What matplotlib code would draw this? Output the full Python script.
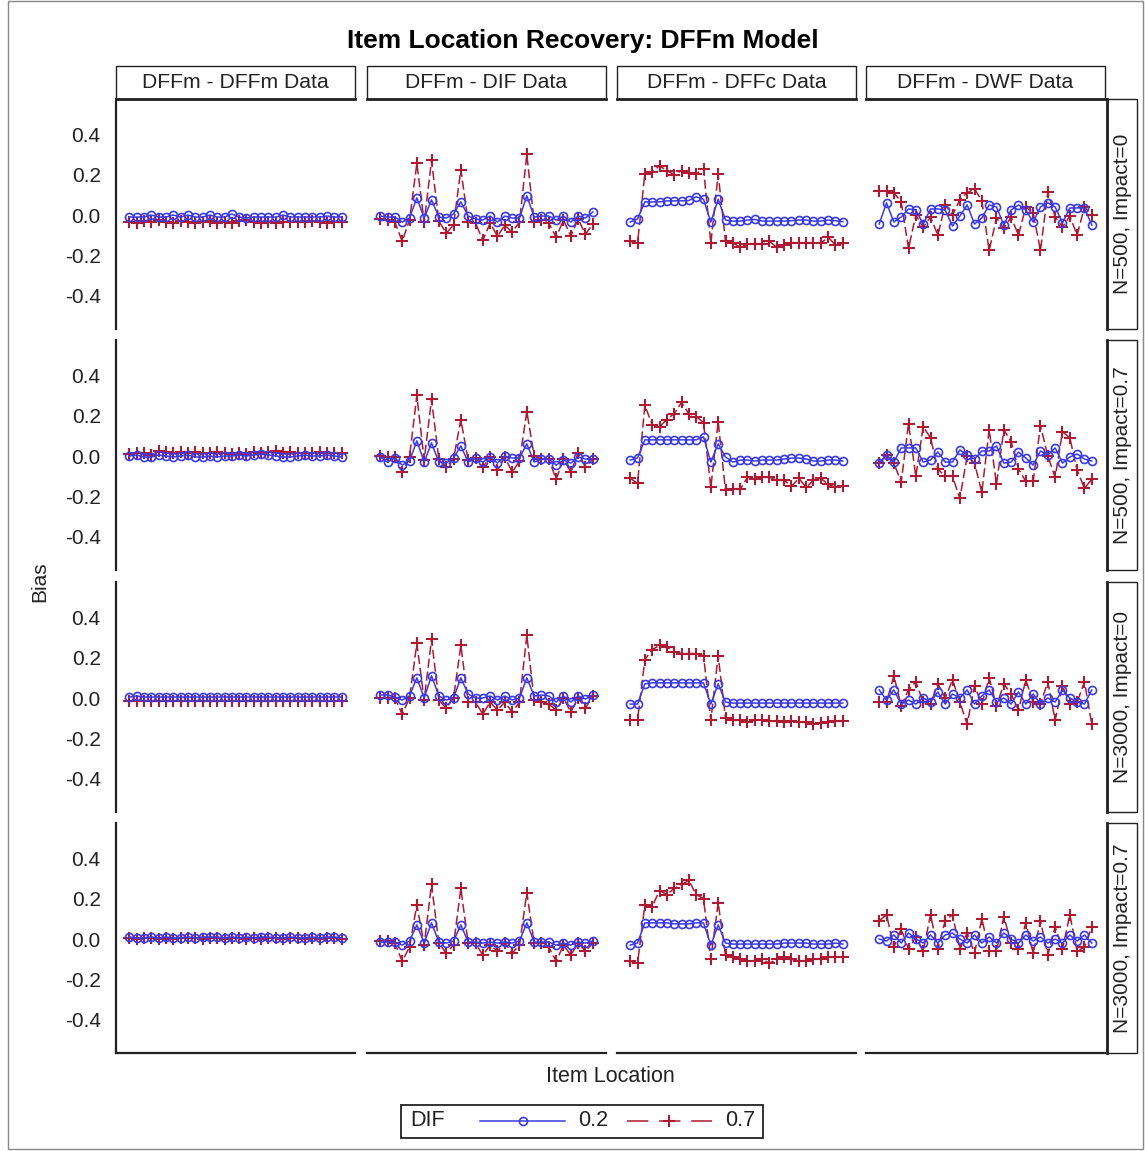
import matplotlib
matplotlib.use("Agg")
import matplotlib.pyplot as plt
from matplotlib.lines import Line2D
from matplotlib.patches import Rectangle

plt.rcParams['font.family'] = ['Liberation Sans', 'DejaVu Sans']
plt.rcParams['axes.unicode_minus'] = False

# ---- data -------------------------------------------------------------
items = list(range(1, 31))
data_conditions = ["DFFm - DFFm Data", "DFFm - DIF Data", "DFFm - DFFc Data", "DFFm - DWF Data"]
sample_conditions = ["N=500, Impact=0", "N=500, Impact=0.7", "N=3000, Impact=0", "N=3000, Impact=0.7"]
dif_levels = ["0.2", "0.7"]
y_ticks = [0.4, 0.2, 0.0, -0.2, -0.4]
y_tick_labels = ["0.4", "0.2", "0.0", "-0.2", "-0.4"]

# N=500, Impact=0
n500_i0_dffm_02 = [-0.01, -0.01, -0.01, 0.0, -0.01, -0.01, 0.0, -0.01, 0.0, -0.01, -0.01, 0.0, -0.01, -0.01, 0.005,
                   -0.01, -0.015, -0.01, -0.01, -0.01, -0.01, 0.0, -0.01, -0.01, -0.01, -0.01, -0.01, -0.005, -0.01, -0.01]
n500_i0_dffm_07 = [-0.035, -0.04, -0.03, -0.035, -0.025, -0.035, -0.04, -0.03, -0.035, -0.04, -0.035, -0.03, -0.04, -0.035, -0.04,
                   -0.03, -0.025, -0.035, -0.04, -0.035, -0.04, -0.035, -0.035, -0.035, -0.035, -0.03, -0.035, -0.04, -0.035, -0.035]
n500_i0_dif_02 = [-0.005, -0.01, -0.01, -0.035, -0.015, 0.085, -0.015, 0.075, -0.01, -0.015, 0.005, 0.065, -0.005, -0.02, -0.025,
                  -0.005, -0.035, -0.005, -0.015, -0.015, 0.095, -0.01, -0.005, -0.005, -0.025, -0.005, -0.035, -0.005, -0.015, 0.015]
n500_i0_dif_07 = [-0.02, -0.025, -0.035, -0.13, -0.025, 0.255, -0.035, 0.27, -0.03, -0.09, -0.05, 0.225, -0.035, -0.04, -0.125,
                  -0.04, -0.105, -0.05, -0.085, -0.035, 0.30, -0.035, -0.025, -0.04, -0.11, -0.025, -0.105, -0.02, -0.095, -0.045]
n500_i0_dffc_02 = [-0.035, -0.02, 0.065, 0.065, 0.065, 0.07, 0.07, 0.07, 0.072, 0.09, 0.078, -0.035, 0.078, -0.025, -0.03,
                   -0.03, -0.025, -0.022, -0.03, -0.03, -0.03, -0.03, -0.028, -0.025, -0.025, -0.03, -0.03, -0.025, -0.028, -0.033]
n500_i0_dffc_07 = [-0.13, -0.14, 0.205, 0.215, 0.243, 0.22, 0.198, 0.22, 0.21, 0.203, 0.23, -0.14, 0.203, -0.13, -0.137,
                   -0.16, -0.143, -0.143, -0.143, -0.13, -0.16, -0.148, -0.137, -0.137, -0.137, -0.137, -0.14, -0.11, -0.148, -0.14]
n500_i0_dwf_02 = [-0.045, 0.06, -0.035, -0.01, 0.03, 0.025, -0.045, 0.03, 0.03, 0.025, -0.055, -0.005, 0.05, -0.045, -0.015,
                  0.05, 0.04, -0.05, 0.025, 0.05, 0.025, -0.035, 0.04, 0.06, 0.04, -0.04, 0.035, 0.035, 0.035, -0.05]
n500_i0_dwf_07 = [0.12, 0.12, 0.11, 0.065, -0.165, 0.0, -0.06, -0.01, -0.1, 0.05, 0.0, 0.075, 0.11, 0.13, 0.07,
                  -0.175, -0.015, -0.065, -0.01, -0.1, 0.04, 0.008, -0.175, 0.115, -0.01, -0.06, -0.005, -0.1, 0.04, 0.0]

# N=500, Impact=0.7
n500_i7_dffm_02 = [0.0, 0.005, -0.005, -0.005, 0.005, 0.0, -0.005, 0.0, 0.005, -0.005, -0.005, 0.0, -0.005, 0.0, 0.0,
                   0.005, 0.0, 0.005, 0.01, 0.005, 0.0, -0.005, -0.005, 0.0, 0.005, 0.0, 0.0, 0.005, 0.0, -0.005]
n500_i7_dffm_07 = [0.01, 0.015, 0.015, 0.005, 0.025, 0.02, 0.015, 0.02, 0.015, 0.02, 0.015, 0.015, 0.02, 0.015, 0.01,
                   0.015, 0.01, 0.02, 0.015, 0.02, 0.025, 0.015, 0.02, 0.015, 0.015, 0.015, 0.02, 0.015, 0.015, 0.015]
n500_i7_dif_02 = [-0.005, -0.03, -0.01, -0.045, -0.025, 0.075, -0.03, 0.065, -0.03, -0.035, -0.01, 0.05, -0.03, -0.01, -0.03,
                  -0.005, -0.035, 0.0, -0.01, -0.01, 0.06, -0.03, -0.015, -0.015, -0.045, -0.02, -0.035, -0.005, -0.015, -0.015]
n500_i7_dif_07 = [0.0, -0.005, -0.005, -0.08, -0.005, 0.30, -0.02, 0.28, -0.015, -0.055, -0.015, 0.18, -0.02, -0.01, -0.055,
                  -0.005, -0.07, -0.005, -0.08, -0.025, 0.22, 0.0, -0.015, -0.015, -0.115, -0.015, -0.08, 0.015, -0.055, -0.015]
n500_i7_dffc_02 = [-0.02, -0.01, 0.08, 0.08, 0.08, 0.08, 0.08, 0.08, 0.08, 0.08, 0.095, -0.03, 0.06, -0.005, -0.03,
                   -0.02, -0.02, -0.025, -0.02, -0.02, -0.02, -0.015, -0.01, -0.01, -0.015, -0.025, -0.025, -0.02, -0.02, -0.025]
n500_i7_dffc_07 = [-0.11, -0.135, 0.25, 0.155, 0.145, 0.18, 0.21, 0.265, 0.21, 0.195, 0.165, -0.155, 0.17, -0.17, -0.165,
                   -0.165, -0.105, -0.115, -0.105, -0.105, -0.12, -0.12, -0.15, -0.11, -0.155, -0.12, -0.11, -0.14, -0.155, -0.15]
n500_i7_dwf_02 = [-0.035, 0.005, -0.03, 0.04, 0.04, 0.04, -0.03, -0.02, 0.02, -0.03, -0.03, 0.03, 0.005, -0.015, 0.025,
                  0.025, 0.05, -0.035, -0.03, 0.02, -0.01, -0.045, 0.025, 0.005, 0.04, -0.035, -0.005, 0.01, -0.015, -0.025]
n500_i7_dwf_07 = [-0.035, 0.005, -0.035, -0.13, 0.16, -0.1, 0.145, 0.09, -0.065, -0.1, -0.1, -0.21, 0.0, -0.035, -0.18,
                  0.13, -0.14, 0.13, 0.07, -0.065, -0.125, -0.125, 0.15, 0.0, -0.105, 0.12, 0.09, -0.07, -0.16, -0.115]

# N=3000, Impact=0
n3000_i0_dffm_02 = [0.005, 0.01, 0.005, 0.005, 0.005, 0.005, 0.005, 0.005, 0.005, 0.005, 0.005, 0.005, 0.005, 0.005, 0.005,
                    0.005, 0.005, 0.005, 0.005, 0.005, 0.005, 0.005, 0.005, 0.005, 0.005, 0.005, 0.005, 0.005, 0.005, 0.005]
n3000_i0_dffm_07 = [-0.015, -0.015, -0.015, -0.015, -0.015, -0.015, -0.015, -0.015, -0.015, -0.015, -0.015, -0.015, -0.015, -0.015, -0.015,
                    -0.015, -0.015, -0.015, -0.015, -0.015, -0.015, -0.015, -0.015, -0.015, -0.015, -0.015, -0.015, -0.015, -0.015, -0.015]
n3000_i0_dif_02 = [0.015, 0.015, 0.005, -0.01, 0.01, 0.10, 0.0, 0.11, 0.01, -0.01, 0.0, 0.10, 0.02, 0.0, 0.0,
                   0.01, -0.01, 0.01, -0.01, 0.0, 0.10, 0.01, 0.015, 0.01, -0.02, 0.01, -0.02, 0.01, -0.005, 0.015]
n3000_i0_dif_07 = [0.0, 0.0, 0.0, -0.08, 0.0, 0.27, -0.01, 0.29, -0.01, -0.05, 0.0, 0.26, -0.02, -0.02, -0.08,
                   -0.02, -0.06, -0.02, -0.07, -0.02, 0.31, -0.01, -0.02, -0.03, -0.06, 0.0, -0.07, 0.0, -0.05, 0.01]
n3000_i0_dffc_02 = [-0.03, -0.03, 0.07, 0.075, 0.075, 0.075, 0.075, 0.075, 0.075, 0.075, 0.075, -0.03, 0.07, -0.02, -0.025,
                    -0.025, -0.025, -0.025, -0.025, -0.025, -0.025, -0.025, -0.025, -0.025, -0.025, -0.025, -0.025, -0.025, -0.025, -0.025]
n3000_i0_dffc_07 = [-0.11, -0.11, 0.19, 0.24, 0.26, 0.25, 0.23, 0.22, 0.22, 0.22, 0.21, -0.11, 0.21, -0.10, -0.11,
                    -0.11, -0.12, -0.11, -0.11, -0.115, -0.115, -0.12, -0.115, -0.12, -0.12, -0.13, -0.125, -0.12, -0.115, -0.115]
n3000_i0_dwf_02 = [0.04, -0.01, 0.04, -0.03, -0.01, -0.03, 0.0, -0.02, 0.03, -0.03, 0.02, 0.0, 0.04, -0.03, 0.01,
                   0.04, -0.02, 0.0, -0.03, 0.03, -0.03, 0.02, -0.03, 0.0, -0.02, 0.04, 0.0, -0.02, -0.03, 0.04]
n3000_i0_dwf_07 = [-0.02, -0.02, 0.11, -0.04, 0.04, 0.08, -0.02, -0.03, 0.07, 0.0, 0.09, -0.02, -0.13, 0.06, -0.03,
                   0.10, -0.04, 0.07, 0.02, -0.06, 0.09, -0.02, -0.03, 0.08, -0.11, 0.06, -0.03, -0.02, 0.08, -0.13]

# N=3000, Impact=0.7
n3000_i7_dffm_02 = [0.01, 0.005, 0.005, 0.01, 0.005, 0.01, 0.005, 0.005, 0.01, 0.005, 0.01, 0.01, 0.01, 0.005, 0.01,
                    0.005, 0.01, 0.005, 0.01, 0.01, 0.005, 0.005, 0.01, 0.005, 0.005, 0.01, 0.005, 0.01, 0.01, 0.005]
n3000_i7_dffm_07 = [0.005, 0.0, 0.005, 0.005, 0.0, 0.005, 0.0, 0.005, 0.005, 0.005, 0.0, 0.005, 0.005, 0.0, 0.005,
                    0.005, 0.0, 0.005, 0.0, 0.005, 0.005, 0.0, 0.005, 0.005, 0.0, 0.005, 0.0, 0.005, 0.005, 0.0]
n3000_i7_dif_02 = [-0.015, -0.015, -0.015, -0.03, -0.01, 0.07, -0.02, 0.08, -0.015, -0.02, -0.01, 0.07, -0.015, -0.015, -0.02,
                   -0.015, -0.02, -0.015, -0.02, -0.01, 0.08, -0.015, -0.015, -0.015, -0.03, -0.02, -0.03, -0.015, -0.02, -0.01]
n3000_i7_dif_07 = [-0.01, -0.01, -0.02, -0.11, -0.04, 0.17, -0.03, 0.27, -0.02, -0.07, -0.03, 0.25, -0.02, -0.02, -0.08,
                   -0.03, -0.06, -0.02, -0.07, -0.03, 0.23, -0.02, -0.02, -0.04, -0.11, -0.03, -0.08, -0.02, -0.06, -0.02]
n3000_i7_dffc_02 = [-0.03, -0.02, 0.08, 0.08, 0.08, 0.08, 0.075, 0.075, 0.075, 0.08, 0.08, -0.03, 0.07, -0.02, -0.025,
                    -0.025, -0.025, -0.025, -0.025, -0.025, -0.025, -0.02, -0.02, -0.02, -0.02, -0.025, -0.025, -0.025, -0.02, -0.025]
n3000_i7_dffc_07 = [-0.11, -0.12, 0.17, 0.16, 0.24, 0.22, 0.25, 0.27, 0.29, 0.22, 0.20, -0.10, 0.18, -0.08, -0.09,
                    -0.10, -0.11, -0.11, -0.10, -0.12, -0.10, -0.09, -0.10, -0.11, -0.11, -0.10, -0.10, -0.09, -0.09, -0.09]
n3000_i7_dwf_02 = [0.0, -0.01, 0.02, -0.02, 0.03, 0.0, -0.02, 0.02, -0.02, 0.02, 0.03, 0.0, -0.02, 0.02, -0.02,
                   0.01, -0.02, 0.03, 0.0, -0.02, 0.02, -0.01, 0.01, -0.02, 0.0, -0.02, 0.02, -0.01, 0.02, -0.02]
n3000_i7_dwf_07 = [0.09, 0.12, -0.04, 0.05, -0.05, 0.01, -0.06, 0.12, -0.05, 0.09, 0.12, -0.05, 0.03, -0.07, 0.10,
                   -0.06, -0.06, 0.11, -0.02, -0.05, 0.08, -0.07, 0.09, -0.08, 0.06, -0.05, 0.12, -0.06, -0.04, 0.06]

panels = [
    [(n500_i0_dffm_02, n500_i0_dffm_07), (n500_i0_dif_02, n500_i0_dif_07),
     (n500_i0_dffc_02, n500_i0_dffc_07), (n500_i0_dwf_02, n500_i0_dwf_07)],
    [(n500_i7_dffm_02, n500_i7_dffm_07), (n500_i7_dif_02, n500_i7_dif_07),
     (n500_i7_dffc_02, n500_i7_dffc_07), (n500_i7_dwf_02, n500_i7_dwf_07)],
    [(n3000_i0_dffm_02, n3000_i0_dffm_07), (n3000_i0_dif_02, n3000_i0_dif_07),
     (n3000_i0_dffc_02, n3000_i0_dffc_07), (n3000_i0_dwf_02, n3000_i0_dwf_07)],
    [(n3000_i7_dffm_02, n3000_i7_dffm_07), (n3000_i7_dif_02, n3000_i7_dif_07),
     (n3000_i7_dffc_02, n3000_i7_dffc_07), (n3000_i7_dwf_02, n3000_i7_dwf_07)],
]

# ---- styling ----------------------------------------------------------
BLUE = "#3a3ae6"
RED = "#ad1a33"
INK = "#222222"
W, H = 1145, 1151

blue_style = dict(color=BLUE, lw=1.1, marker="o", ms=5.8, mfc="none", mec=BLUE, mew=1.2)
red_style = dict(color=RED, lw=1.1, dashes=(6, 2.5), marker="+", ms=8, mec=RED, mew=1.5)


def fx(px):
    return px / W


def fy(py):
    return 1 - py / H


fig = plt.figure(figsize=(W / 100, H / 100), dpi=100)

col_left = [116, 367, 617, 866]
col_w = 239
row_top = [99, 340, 582, 823]
row_h = 230

for r in range(4):
    for c in range(4):
        ax = fig.add_axes([fx(col_left[c]), fy(row_top[r] + row_h), col_w / W, row_h / H])
        s02, s07 = panels[r][c]
        ax.plot(items, s07, **red_style, zorder=2)
        ax.plot(items, s02, **blue_style, zorder=3)
        ax.set_xlim(-0.8, 31.8)
        ax.set_ylim(-0.564, 0.574)
        ax.set_xticks([])
        ax.set_yticks(y_ticks)
        ax.tick_params(axis="y", length=0, pad=11, labelsize=15, colors=INK)
        if c != 0:
            ax.set_yticklabels([])
        else:
            ax.set_yticklabels(y_tick_labels)
        for side in ["top", "right", "left", "bottom"]:
            ax.spines[side].set_visible(False)
        if c == 0:
            ax.spines["left"].set_visible(True)
            ax.spines["left"].set_linewidth(1.6)
            ax.spines["left"].set_color(INK)
        if r == 3:
            ax.spines["bottom"].set_visible(True)
            ax.spines["bottom"].set_linewidth(1.6)
            ax.spines["bottom"].set_color(INK)
        ax.patch.set_alpha(0)

# column strips
for c in range(4):
    x0 = col_left[c]
    rect = Rectangle((fx(x0), fy(99)), col_w / W, 33 / H, transform=fig.transFigure,
                     fill=False, lw=1.0, ec=INK)
    fig.add_artist(rect)
    fig.add_artist(Line2D([fx(x0), fx(x0 + col_w)], [fy(99), fy(99)], transform=fig.transFigure,
                          lw=2.0, color=INK))
    fig.text(fx(x0 + col_w / 2), fy(82.5), data_conditions[c], ha="center", va="center",
             fontsize=15.2, color=INK)

# row strips
for r in range(4):
    y0 = row_top[r]
    rect = Rectangle((fx(1107), fy(y0 + row_h)), 30 / W, row_h / H, transform=fig.transFigure,
                     fill=False, lw=1.0, ec=INK)
    fig.add_artist(rect)
    fig.add_artist(Line2D([fx(1107), fx(1107)], [fy(y0), fy(y0 + row_h)], transform=fig.transFigure,
                          lw=2.0, color=INK))
    fig.text(fx(1122), fy(y0 + row_h / 2), sample_conditions[r], ha="center", va="center",
             rotation=90, fontsize=15, color=INK)

# titles
fig.text(fx(583), fy(41), "Item Location Recovery: DFFm Model", ha="center", va="center",
         fontsize=19, fontweight="bold", color="black")
fig.text(fx(40), fy(582), "Bias", ha="center", va="center", rotation=90, fontsize=15, color=INK)
fig.text(fx(610), fy(1077), "Item Location", ha="center", va="center", fontsize=15.5, color=INK)

# legend
fig.add_artist(Rectangle((fx(401), fy(1138)), (763 - 401) / W, 33 / H, transform=fig.transFigure,
                         fill=False, lw=1.3, ec=INK))
fig.text(fx(410), fy(1121), "DIF", ha="left", va="center", fontsize=15.5, color=INK)
ly = fy(1121)
fig.add_artist(Line2D([fx(480), fx(565)], [ly, ly], transform=fig.transFigure, color=BLUE, lw=1.1))
fig.add_artist(Line2D([fx(523)], [ly], transform=fig.transFigure, color=BLUE, marker="o",
                      ms=5.8, mfc="none", mec=BLUE, mew=1.2, lw=0))
fig.text(fx(578), ly, dif_levels[0], ha="left", va="center", fontsize=15.5, color=INK)
fig.add_artist(Line2D([fx(627), fx(712)], [ly, ly], transform=fig.transFigure, color=RED, lw=1.1,
                      dashes=(14, 7)))
fig.add_artist(Line2D([fx(669)], [ly], transform=fig.transFigure, color=RED, marker="+",
                      ms=9, mec=RED, mew=1.5, lw=0))
fig.text(fx(725), ly, dif_levels[1], ha="left", va="center", fontsize=15.5, color=INK)

# outer frame
fig.add_artist(Rectangle((fx(8), fy(1149)), (1143 - 8) / W, 1148 / H, transform=fig.transFigure,
                         fill=False, lw=1.0, ec="#888888"))

fig.savefig("out.png", dpi=100)
